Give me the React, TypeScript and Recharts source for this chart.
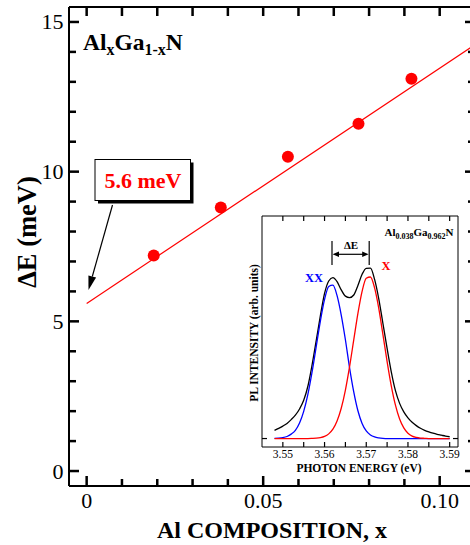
import React from 'react';
import { ComposedChart, LineChart, Line, Scatter, XAxis, YAxis } from 'recharts';

// ---------- main plot data ----------
const compX = [0.019, 0.038, 0.057, 0.077, 0.092];
const deltaE = [7.2, 8.8, 10.5, 11.6, 13.1];
const fitX = [0, 0.11];
const fitY = [5.6, 14.24];

const xTicks = [0, 0.01, 0.02, 0.03, 0.04, 0.05, 0.06, 0.07, 0.08, 0.09, 0.1];
const xMajor = [0, 0.05, 0.1];
const xMajorLabels = ['0', '0.05', '0.10'];
const yTicks = [0, 1, 2, 3, 4, 5, 6, 7, 8, 9, 10, 11, 12, 13, 14, 15];
const yMajor = [0, 5, 10, 15];
const yMajorLabels = ['0', '5', '10', '15'];

// ---------- inset data ----------
const energy = [
  3.548, 3.549, 3.55, 3.551, 3.552, 3.553, 3.554, 3.555, 3.556, 3.557, 3.558,
  3.559, 3.56, 3.561, 3.562, 3.563, 3.564, 3.565, 3.566, 3.567, 3.568, 3.569,
  3.57, 3.571, 3.572, 3.573, 3.574, 3.575, 3.576, 3.577, 3.578, 3.579, 3.58,
  3.581, 3.582, 3.583, 3.584, 3.585, 3.586, 3.587, 3.588, 3.589, 3.59,
];
const plMeasured = [
  0.037, 0.046, 0.056, 0.068, 0.085, 0.105, 0.133, 0.172, 0.235, 0.33, 0.44,
  0.552, 0.652, 0.708, 0.723, 0.705, 0.668, 0.64, 0.633, 0.645, 0.688, 0.738,
  0.765, 0.766, 0.715, 0.628, 0.517, 0.405, 0.3, 0.215, 0.158, 0.12, 0.093,
  0.073, 0.058, 0.046, 0.037, 0.03, 0.024, 0.019, 0.015, 0.011, 0.008,
];
const plXX = [
  0.0005, 0.0015, 0.0039, 0.0091, 0.0198, 0.037, 0.07, 0.122, 0.198, 0.298, 0.413,
  0.528, 0.625, 0.683, 0.689, 0.642, 0.555, 0.444, 0.318, 0.21, 0.125, 0.068,
  0.034, 0.016, 0.007, 0.003, 0.001, 0, 0, 0, 0, 0, 0,
  0, 0, 0, 0, 0, 0, 0, 0, 0, 0,
];
const plX = [
  0, 0, 0, 0, 0, 0, 0, 0, 0, 0.0006, 0.0016,
  0.0041, 0.0096, 0.021, 0.042, 0.079, 0.136, 0.218, 0.323, 0.443, 0.562, 0.661,
  0.72, 0.726, 0.677, 0.585, 0.467, 0.346, 0.237, 0.15, 0.088, 0.048, 0.024,
  0.011, 0.005, 0.002, 0.001, 0, 0, 0, 0, 0, 0,
];
const insetTicks = [3.55, 3.555, 3.56, 3.565, 3.57, 3.575, 3.58, 3.585, 3.59];
const insetMajor = [3.55, 3.56, 3.57, 3.58, 3.59];
const insetMajorLabels = ['3.55', '3.56', '3.57', '3.58', '3.59'];

const pointData = compX.map((x, i) => ({ x, y: deltaE[i] }));
const fitData = fitX.map((x, i) => ({ x, y: fitY[i] }));
const plData = energy.map((e, i) => ({ e, black: plMeasured[i], xx: plXX[i], x: plX[i] }));

// ---------- layout ----------
const MAIN_W = 476;
const MAIN_H = 545;
const MAIN_M = { top: 6, right: 0, left: 0, bottom: 0 };
const MAIN_YAXIS_W = 69;
const MAIN_XAXIS_H = 59;
const mainXDom: [number, number] = [-0.005, 0.11];
const mainYDom: [number, number] = [-0.5, 15.5];
const mainLeft = MAIN_M.left + MAIN_YAXIS_W;
const mainTop = MAIN_M.top + 1;
const mainPlotW = MAIN_W - MAIN_M.left - MAIN_M.right - MAIN_YAXIS_W - 1;
const mainPlotH = MAIN_H - MAIN_M.top - 1 - MAIN_XAXIS_H;
const mainSX = (v: number) => mainLeft + ((v - mainXDom[0]) / (mainXDom[1] - mainXDom[0])) * mainPlotW;
const mainSY = (v: number) => mainTop + ((mainYDom[1] - v) / (mainYDom[1] - mainYDom[0])) * mainPlotH;

const IN_LEFT = 230;
const IN_TOP = 205;
const IN_W = 232;
const IN_H = 270;
const IN_M = { top: 10, right: 3, left: 0, bottom: 0 };
const IN_YAXIS_W = 32;
const IN_XAXIS_H = 28;
const inXDom: [number, number] = [3.545, 3.592];
const inYDom: [number, number] = [-0.038, 1];
const inLeft = IN_LEFT + IN_M.left + IN_YAXIS_W;
const inTop = IN_TOP + IN_M.top + 1;
const inPlotW = IN_W - IN_M.left - IN_M.right - IN_YAXIS_W - 1;
const inPlotH = IN_H - IN_M.top - 1 - IN_XAXIS_H;
const inSX = (v: number) => inLeft + ((v - inXDom[0]) / (inXDom[1] - inXDom[0])) * inPlotW;
const inSY = (v: number) => inTop + ((inYDom[1] - v) / (inYDom[1] - inYDom[0])) * inPlotH;

const serif = "'Liberation Serif', 'Times New Roman', serif";
const RED = '#ff0000';
const BLUE = '#0000ff';

const findMajor = (v: number, majors: number[]) =>
  majors.findIndex((m) => Math.abs(m - v) < 1e-9);

// ---------- tick labels (axis-driven) ----------
const MainBottomTick = (p: any) => {
  const i = findMajor(p.payload.value, xMajor);
  if (i < 0) return <g />;
  return (
    <text x={p.x} y={Number(p.y) + 22} textAnchor="middle" fontSize={22} fontFamily={serif} fill="#000">
      {xMajorLabels[i]}
    </text>
  );
};
const MainLeftTick = (p: any) => {
  const i = findMajor(p.payload.value, yMajor);
  if (i < 0) return <g />;
  return (
    <text x={Number(p.x) - 5.5} y={Number(p.y) + 7.5} textAnchor="end" fontSize={22} fontFamily={serif} fill="#000">
      {yMajorLabels[i]}
    </text>
  );
};
const InsetBottomTick = (p: any) => {
  const i = findMajor(p.payload.value, insetMajor);
  if (i < 0) return <g />;
  return (
    <text x={p.x} y={Number(p.y) + 11} textAnchor="middle" fontSize={11.5} fontFamily={serif} fill="#000">
      {insetMajorLabels[i]}
    </text>
  );
};
const EmptyTick = () => <g />;

const Dot = (p: any) => <circle cx={p.cx} cy={p.cy} r={6} fill={RED} />;

// ---------- inward tick marks, positioned from the same tick arrays / domains ----------
const MAJ = 10;
const MIN = 7;
const TOPLEN = 9;
const MW = 2.5;
function TickMarks() {
  const els: React.ReactNode[] = [];
  const yb = mainSY(mainYDom[0]);
  const yt = mainSY(mainYDom[1]);
  const xl = mainSX(mainXDom[0]);
  const xr = mainSX(mainXDom[1]);
  xTicks.forEach((v, k) => {
    const x = mainSX(v);
    const len = findMajor(v, xMajor) >= 0 ? MAJ : MIN;
    els.push(<rect key={`mb${k}`} x={x - MW / 2} y={yb - len} width={MW} height={len} fill="#000" />);
    els.push(<rect key={`mt${k}`} x={x - MW / 2} y={yt} width={MW} height={TOPLEN} fill="#000" />);
  });
  yTicks.forEach((v, k) => {
    const y = mainSY(v);
    const len = findMajor(v, yMajor) >= 0 ? MAJ : MIN;
    els.push(<rect key={`ml${k}`} x={xl} y={y - MW / 2} width={len} height={MW} fill="#000" />);
    els.push(<rect key={`mr${k}`} x={xr - len} y={y - MW / 2} width={len} height={MW} fill="#000" />);
  });
  const iyb = inSY(inYDom[0]);
  const iyt = inSY(inYDom[1]);
  insetTicks.forEach((v, k) => {
    const x = inSX(v);
    els.push(<rect key={`ib${k}`} x={x - 0.6} y={iyb - 5} width={1.2} height={5} fill="#000" />);
    els.push(<rect key={`it${k}`} x={x - 0.6} y={iyt} width={1.2} height={5} fill="#000" />);
  });
  const y0 = inSY(0);
  const ixl = inSX(inXDom[0]);
  const ixr = inSX(inXDom[1]);
  els.push(<rect key="il" x={ixl} y={y0 - 0.6} width={5} height={1.2} fill="#000" />);
  els.push(<rect key="ir" x={ixr - 5} y={y0 - 0.6} width={5} height={1.2} fill="#000" />);
  return <g>{els}</g>;
}

export default function App() {
  const mainAxisLine = { stroke: '#000', strokeWidth: 2 };
  const insetAxisLine = { stroke: '#000', strokeWidth: 1 };

  return (
    <div
      style={{
        position: 'fixed',
        left: 0,
        top: 0,
        width: 470,
        height: 545,
        overflow: 'hidden',
        background: '#fff',
      }}
    >
      <div style={{ position: 'absolute', left: 0, top: 0 }}>
        <ComposedChart width={MAIN_W} height={MAIN_H} margin={MAIN_M}>
          <XAxis
            xAxisId="b"
            type="number"
            dataKey="x"
            domain={mainXDom}
            ticks={xTicks}
            allowDataOverflow
            height={MAIN_XAXIS_H}
            tickSize={0}
            tickMargin={0}
            tickLine={false}
            axisLine={mainAxisLine}
            tick={MainBottomTick}
            interval={0}
          />
          <XAxis
            xAxisId="t"
            orientation="top"
            type="number"
            dataKey="x"
            domain={mainXDom}
            ticks={xTicks}
            allowDataOverflow
            height={1}
            tickSize={0}
            tickMargin={0}
            tickLine={false}
            axisLine={mainAxisLine}
            tick={EmptyTick}
          />
          <YAxis
            yAxisId="l"
            type="number"
            domain={mainYDom}
            ticks={yTicks}
            allowDataOverflow
            width={MAIN_YAXIS_W}
            tickSize={0}
            tickMargin={0}
            tickLine={false}
            axisLine={mainAxisLine}
            tick={MainLeftTick}
            interval={0}
          />
          <YAxis
            yAxisId="r"
            orientation="right"
            type="number"
            domain={mainYDom}
            ticks={yTicks}
            allowDataOverflow
            width={1}
            tickSize={0}
            tickMargin={0}
            tickLine={false}
            axisLine={mainAxisLine}
            tick={EmptyTick}
          />
          <Line
            xAxisId="t"
            yAxisId="r"
            data={fitData}
            dataKey="y"
            stroke="none"
            dot={false}
            isAnimationActive={false}
          />
          <Line
            xAxisId="b"
            yAxisId="l"
            data={fitData}
            dataKey="y"
            type="linear"
            stroke={RED}
            strokeWidth={1.2}
            dot={false}
            isAnimationActive={false}
          />
          <Scatter
            xAxisId="b"
            yAxisId="l"
            data={pointData}
            dataKey="y"
            fill={RED}
            shape={Dot}
            isAnimationActive={false}
          />
        </ComposedChart>
      </div>

      <div style={{ position: 'absolute', left: IN_LEFT, top: IN_TOP }}>
        <LineChart width={IN_W} height={IN_H} data={plData} margin={IN_M}>
          <XAxis
            xAxisId="b"
            type="number"
            dataKey="e"
            domain={inXDom}
            ticks={insetTicks}
            allowDataOverflow
            height={IN_XAXIS_H}
            tickSize={0}
            tickMargin={0}
            tickLine={false}
            axisLine={insetAxisLine}
            tick={InsetBottomTick}
            interval={0}
          />
          <XAxis
            xAxisId="t"
            orientation="top"
            type="number"
            dataKey="e"
            domain={inXDom}
            ticks={insetTicks}
            allowDataOverflow
            height={1}
            tickSize={0}
            tickMargin={0}
            tickLine={false}
            axisLine={insetAxisLine}
            tick={EmptyTick}
          />
          <YAxis
            yAxisId="l"
            type="number"
            domain={inYDom}
            ticks={[0]}
            allowDataOverflow
            width={IN_YAXIS_W}
            tickSize={0}
            tickMargin={0}
            tickLine={false}
            axisLine={insetAxisLine}
            tick={EmptyTick}
          />
          <YAxis
            yAxisId="r"
            orientation="right"
            type="number"
            domain={inYDom}
            ticks={[0]}
            allowDataOverflow
            width={1}
            tickSize={0}
            tickMargin={0}
            tickLine={false}
            axisLine={insetAxisLine}
            tick={EmptyTick}
          />
          <Line xAxisId="t" yAxisId="r" dataKey="black" stroke="none" dot={false} isAnimationActive={false} />
          <Line xAxisId="b" yAxisId="l" dataKey="black" type="monotone" stroke="#000" strokeWidth={1.3} dot={false} isAnimationActive={false} />
          <Line xAxisId="b" yAxisId="l" dataKey="xx" type="monotone" stroke={BLUE} strokeWidth={1.3} dot={false} isAnimationActive={false} />
          <Line xAxisId="b" yAxisId="l" dataKey="x" type="monotone" stroke={RED} strokeWidth={1.3} dot={false} isAnimationActive={false} />
        </LineChart>
      </div>

      <svg
        width={470}
        height={545}
        style={{ position: 'absolute', left: 0, top: 0, pointerEvents: 'none' }}
        fontFamily={serif}
      >
        <TickMarks />
        {/* main annotations */}
        <text x={83} y={49.5} fontSize={23.5} fontWeight="bold" fill="#000">
          Al<tspan fontSize={16} dy={5}>x</tspan>
          <tspan dy={-5}>Ga</tspan>
          <tspan fontSize={16} dy={5}>1-x</tspan>
          <tspan dy={-5}>N</tspan>
        </text>
        <rect x={98} y={162.5} width={95.5} height={41} fill="#000" />
        <rect x={95} y={159.5} width={95.5} height={41} fill="#fff" stroke="#000" strokeWidth={1} />
        <text x={143} y={187.5} textAnchor="middle" fontSize={22} fontWeight="bold" fill={RED}>
          5.6 meV
        </text>
        <line x1={112.5} y1={205} x2={92.3} y2={276.5} stroke="#000" strokeWidth={1.2} />
        <polygon points="88.5,290 96.1,277.6 88.4,275.4" fill="#000" />
        <text
          x={0}
          y={0}
          transform="translate(36,232) rotate(-90)"
          textAnchor="middle"
          fontSize={26.5}
          fontWeight="bold"
          fill="#000"
        >
          ΔE (meV)
        </text>
        <text x={272} y={538} textAnchor="middle" fontSize={24} fontWeight="bold" fill="#000">
          Al COMPOSITION, x
        </text>

        {/* inset annotations */}
        <text x={359} y={471.5} textAnchor="middle" fontSize={11.5} fontWeight="bold" fill="#000">
          PHOTON ENERGY (eV)
        </text>
        <text
          x={0}
          y={0}
          transform="translate(257.5,333) rotate(-90)"
          textAnchor="middle"
          fontSize={11.5}
          fontWeight="bold"
          fill="#000"
        >
          PL INTENSITY (arb. units)
        </text>
        <text x={453.5} y={236} textAnchor="end" fontSize={11} fontWeight="bold" fill="#000">
          Al<tspan fontSize={8} dy={3}>0.038</tspan>
          <tspan dy={-3}>Ga</tspan>
          <tspan fontSize={8} dy={3}>0.962</tspan>
          <tspan dy={-3}>N</tspan>
        </text>
        <text x={314} y={282} textAnchor="middle" fontSize={12.5} fontWeight="bold" fill={BLUE}>
          XX
        </text>
        <text x={386} y={270} textAnchor="middle" fontSize={12.5} fontWeight="bold" fill={RED}>
          X
        </text>
        <text x={351} y={249} textAnchor="middle" fontSize={11} fontWeight="bold" fill="#000">
          ΔE
        </text>
        <line x1={332} y1={241} x2={332} y2={265} stroke="#000" strokeWidth={1.2} />
        <line x1={369.2} y1={241} x2={369.2} y2={265} stroke="#000" strokeWidth={1.2} />
        <line x1={338} y1={254.3} x2={363.2} y2={254.3} stroke="#000" strokeWidth={1.2} />
        <polygon points="332.6,254.3 339,251.6 339,257" fill="#000" />
        <polygon points="368.6,254.3 362.2,251.6 362.2,257" fill="#000" />
      </svg>
    </div>
  );
}
